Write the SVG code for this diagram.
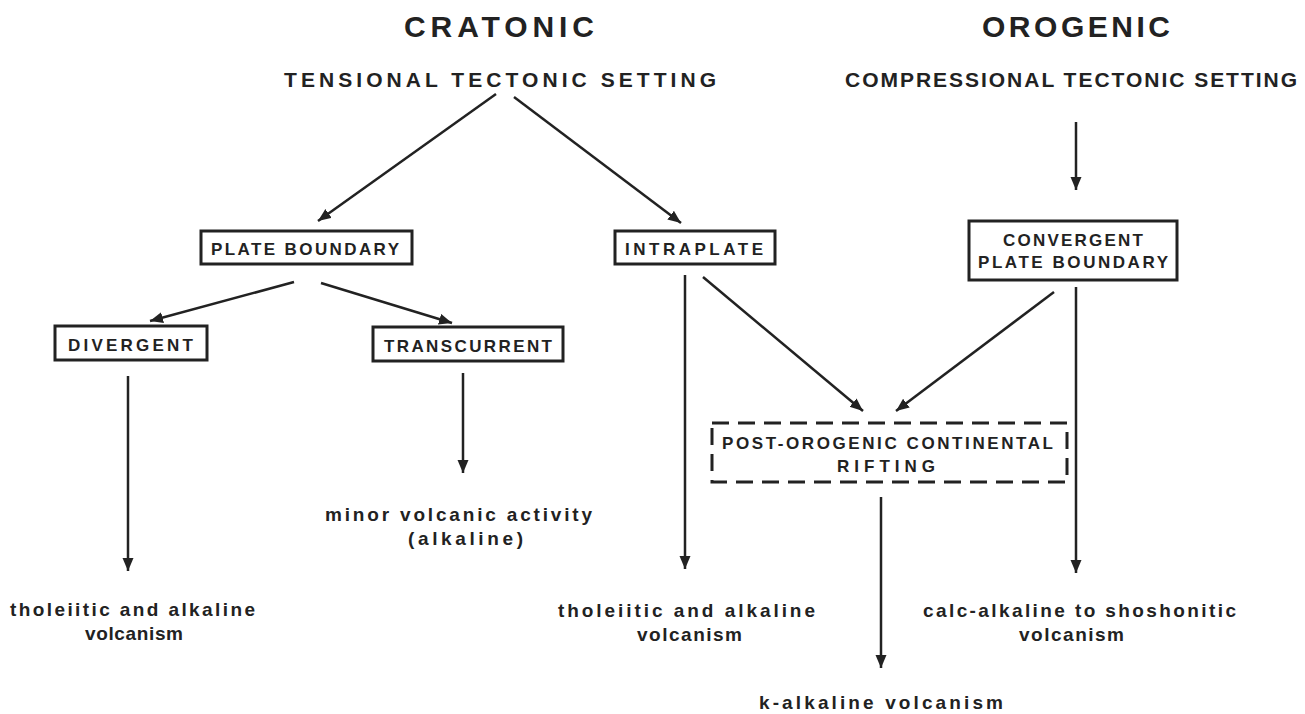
<svg xmlns="http://www.w3.org/2000/svg" width="1305" height="714" viewBox="0 0 1305 714">
<style>
.bg{fill:#ffffff}
.head{font-family:"Liberation Sans",Arial,sans-serif;font-weight:bold;font-size:30px;fill:#222}
.sub{font-family:"Liberation Sans",Arial,sans-serif;font-weight:bold;font-size:21px;fill:#222}
.lbl{font-family:"Liberation Sans",Arial,sans-serif;font-weight:bold;font-size:17px;fill:#222}
.out{font-family:"Liberation Sans",Arial,sans-serif;font-weight:bold;font-size:19px;fill:#222}
.box{fill:none;stroke:#222;stroke-width:3}
.dash{fill:none;stroke:#222;stroke-width:3;stroke-dasharray:17 9}
.conn line{stroke:#222;stroke-width:2.5;marker-end:url(#ah)}
</style>
<defs>
<marker id="ah" markerUnits="userSpaceOnUse" markerWidth="14" markerHeight="12" refX="13" refY="5.5" orient="auto">
<path d="M0,0 L13,5.5 L0,11 z" fill="#222"/>
</marker>
</defs>
<rect class="bg" x="0" y="0" width="1305" height="714"/>

<g id="cratonic">
<text class="head" x="404" y="37" textLength="190" lengthAdjust="spacing">CRATONIC</text>
</g>
<g id="orogenic">
<text class="head" x="982" y="37" textLength="188" lengthAdjust="spacing">OROGENIC</text>
</g>
<g id="tensional">
<text class="sub" x="284" y="87" textLength="432" lengthAdjust="spacing">TENSIONAL   TECTONIC  SETTING</text>
</g>
<g id="compressional">
<text class="sub" x="845" y="87" textLength="452" lengthAdjust="spacing">COMPRESSIONAL TECTONIC  SETTING</text>
</g>

<g id="plate-boundary">
<rect class="box" x="201" y="231" width="211" height="33"/>
<text class="lbl" x="211" y="255" textLength="188" lengthAdjust="spacing">PLATE  BOUNDARY</text>
</g>
<g id="intraplate">
<rect class="box" x="615" y="231" width="160" height="33"/>
<text class="lbl" x="625" y="255" textLength="138" lengthAdjust="spacing">INTRAPLATE</text>
</g>
<g id="convergent">
<rect class="box" x="969" y="221" width="208" height="59"/>
<text class="lbl" x="1003" y="246" textLength="140" lengthAdjust="spacing">CONVERGENT</text>
<text class="lbl" x="978" y="268" textLength="190" lengthAdjust="spacing">PLATE  BOUNDARY</text>
</g>
<g id="divergent">
<rect class="box" x="55" y="326" width="152" height="34"/>
<text class="lbl" x="68" y="351" textLength="125" lengthAdjust="spacing">DIVERGENT</text>
</g>
<g id="transcurrent">
<rect class="box" x="373" y="327" width="190" height="34"/>
<text class="lbl" x="384" y="352" textLength="168" lengthAdjust="spacing">TRANSCURRENT</text>
</g>
<g id="post-orogenic">
<rect class="dash" x="712" y="423" width="355" height="59"/>
<text class="lbl" x="722" y="449" textLength="331" lengthAdjust="spacing">POST-OROGENIC  CONTINENTAL</text>
<text class="lbl" x="837" y="472" textLength="98" lengthAdjust="spacing">RIFTING</text>
</g>

<g id="minor-volcanic">
<text class="out" x="325" y="521" textLength="267" lengthAdjust="spacing">minor volcanic activity</text>
<text class="out" x="408" y="545" textLength="115" lengthAdjust="spacing">(alkaline)</text>
</g>
<g id="tholeiitic-left">
<text class="out" x="10" y="616" textLength="245" lengthAdjust="spacing">tholeiitic and alkaline</text>
<text class="out" x="85" y="640" textLength="98" lengthAdjust="spacing">volcanism</text>
</g>
<g id="tholeiitic-mid">
<text class="out" x="558" y="617" textLength="257" lengthAdjust="spacing">tholeiitic and alkaline</text>
<text class="out" x="637" y="641" textLength="105" lengthAdjust="spacing">volcanism</text>
</g>
<g id="calc-alkaline">
<text class="out" x="923" y="617" textLength="313" lengthAdjust="spacing">calc-alkaline to shoshonitic</text>
<text class="out" x="1019" y="641" textLength="105" lengthAdjust="spacing">volcanism</text>
</g>
<g id="k-alkaline">
<text class="out" x="759" y="709" textLength="244" lengthAdjust="spacing">k-alkaline volcanism</text>
</g>

<g id="connectors" class="conn">
<line x1="496" y1="94" x2="318" y2="221"/>
<line x1="514" y1="97" x2="681" y2="223"/>
<line x1="1076" y1="122" x2="1076" y2="190"/>
<line x1="294" y1="282" x2="150" y2="321"/>
<line x1="321" y1="283" x2="452" y2="323"/>
<line x1="128" y1="376" x2="128" y2="571"/>
<line x1="463" y1="373" x2="463" y2="473"/>
<line x1="685" y1="275" x2="685" y2="569"/>
<line x1="703" y1="277" x2="863" y2="411"/>
<line x1="1054" y1="292" x2="896" y2="411"/>
<line x1="1076" y1="287" x2="1076" y2="573"/>
<line x1="881" y1="497" x2="881" y2="668"/>
</g>
</svg>
